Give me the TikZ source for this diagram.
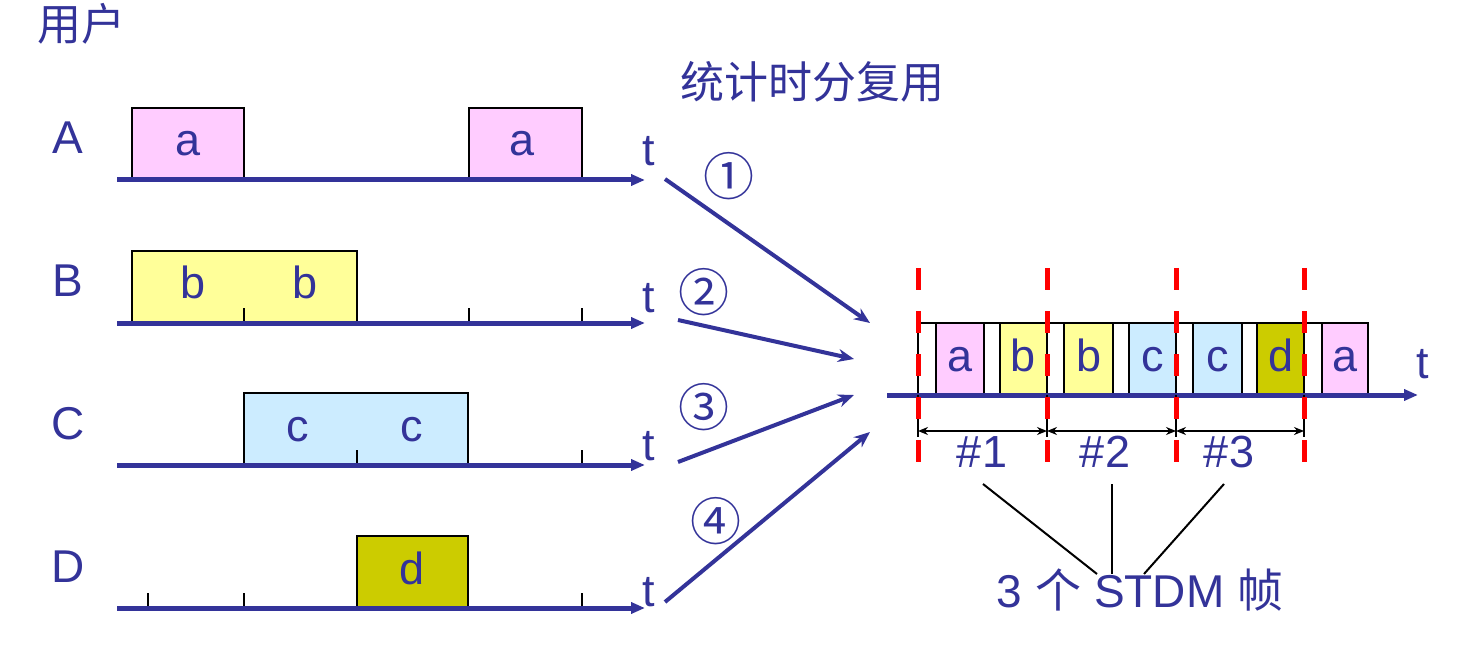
\documentclass[tikz,border=0pt]{standalone}
\usepackage{fontspec}
\setmainfont{Liberation Sans}
\newfontfamily\cjk{Noto Sans CJK SC}
\usetikzlibrary{arrows.meta}
\definecolor{stdmink}{HTML}{333399}
\definecolor{stdmpink}{HTML}{FFCCFF}
\definecolor{stdmyel}{HTML}{FFFF99}
\definecolor{stdmsky}{HTML}{CCECFF}
\definecolor{stdmolive}{HTML}{CCCC00}
\definecolor{stdmred}{HTML}{FF0000}
\tikzset{
  lbl/.style={text=stdmink, inner sep=0pt, anchor=base},
  head/.style={text=stdmink, inner sep=0pt, font=\cjk\fontsize{22}{24}\selectfont},
  num/.style={text=stdmink, inner sep=0pt, font=\cjk\fontsize{25.5}{26}\selectfont},
  box/.style={draw=black, line width=1pt},
  tk/.style={draw=black, line width=1pt},
  axis/.style={-{Triangle[length=7pt,width=5.5pt]}, line width=2.5pt, color=stdmink},
  feed/.style={-{Stealth[length=8pt,width=6.5pt]}, line width=2pt, color=stdmink},
  dim/.style={{Stealth[length=5pt,width=4pt]}-{Stealth[length=5pt,width=4pt]}, line width=1pt, color=black},
  lead/.style={line width=1pt, color=black},
  cut/.style={line width=2.5pt, color=stdmred, dash pattern=on 11pt off 10.5pt},
}
\begin{document}
\begin{tikzpicture}[x=0.5pt, y=-0.5pt, font=\fontsize{22.5}{26}\selectfont]
  \useasboundingbox (0,0) rectangle (1472,652);
  \node[head] (users) at (81,24) {用户};
  \node[head] (title) at (812,82) {统计时分复用};
  % user lines
  \foreach \lo/\hi/\yy/\col in {132/244/180/stdmpink, 469/582/180/stdmpink, 132/357/323/stdmyel, 244/468/465/stdmsky, 357/468/608/stdmolive}
    { \draw[box, fill=\col] (\lo,\yy) rectangle (\hi,\yy-72); }
  \foreach \xx/\yy in {244/323, 469/323, 582/323, 357/465, 582/465, 148/608, 244/608, 582/608}
    \draw[tk] (\xx,\yy) -- (\xx,\yy-15);
  \foreach \nm/\yy/\ty in {A/180/166, B/323/313, C/465/460, D/608/606}
    { \node[lbl] (row\nm) at (68,\yy-26) {\fontsize{23}{26}\selectfont\nm};
      \draw[axis] (117,\yy) -- (645,\yy);
      \node[lbl] (t\nm) at (649,\ty) {t}; }
  \foreach \nm/\xx/\yy/\tx in {a1/188/180/a, a2/522/180/a, b1/193/323/b, b2/305/323/b, c1/298/465/c, c2/412/465/c, d1/412/608/d}
    \node[lbl] (\nm) at (\xx,\yy-24) {\tx};
  % feeds into the mux
  \foreach \nm/\sx/\sy/\dx/\dy in {A/665/179/870/323, B/678/320/854/359, C/678/462/854/395, D/665/602/870/432}
    { \coordinate (src\nm) at (\sx,\sy); \coordinate (dst\nm) at (\dx,\dy); \draw[feed] (src\nm) -- (dst\nm); }
  \foreach \nm/\xx/\yy/\tx in {n1/729/176/①, n2/704/292/②, n3/704/407/③, n4/716/521/④}
    \node[num] (\nm) at (\xx,\yy) {\tx};
  % STDM line
  \draw[box] (918,395) -- (918,323) -- (1368,323) -- (1368,395);
  \foreach \lo/\hi/\tx/\col in {936/984/a/stdmpink, 1000/1047/b/stdmyel, 1064/1113/b/stdmyel, 1129/1176/c/stdmsky, 1193/1242/c/stdmsky, 1257/1304/d/stdmolive, 1322/1368/a/stdmpink}
    { \draw[box, fill=\col] (\lo,395) rectangle (\hi,323); \node[lbl] (slot\lo) at ({(\lo+\hi)/2},371) {\tx}; }
  \draw[axis] (887,395) -- (1418,395);
  \node[lbl] (tOut) at (1423,378) {t};
  \foreach \xx in {918,1047,1176,1304}
    \draw[tk] (\xx,395) -- (\xx,437);
  \foreach \lo/\hi/\k/\xx in {918/1047/1/982, 1047/1176/2/1105, 1176/1304/3/1229}
    { \coordinate (fl\k) at (\lo,431); \coordinate (fr\k) at (\hi,431); \draw[dim] (fl\k) -- (fr\k);
      \node[lbl] (f\k) at (\xx,467) {\#\k}; }
  \foreach \xx in {918,1047,1176,1304}
    \draw[cut] (\xx,268) -- (\xx,462);
  \node[lbl] (frames) at (1140,607) {\fontsize{23}{26}\selectfont 3 {\cjk 个} STDM {\cjk 帧}};
  \foreach \k/\sx/\ex in {1/983/1097, 2/1112/1112, 3/1224/1144}
    { \coordinate (lt\k) at (\sx,484); \coordinate (lb\k) at (\ex,574); \draw[lead] (lt\k) -- (lb\k); }
\end{tikzpicture}
\end{document}
